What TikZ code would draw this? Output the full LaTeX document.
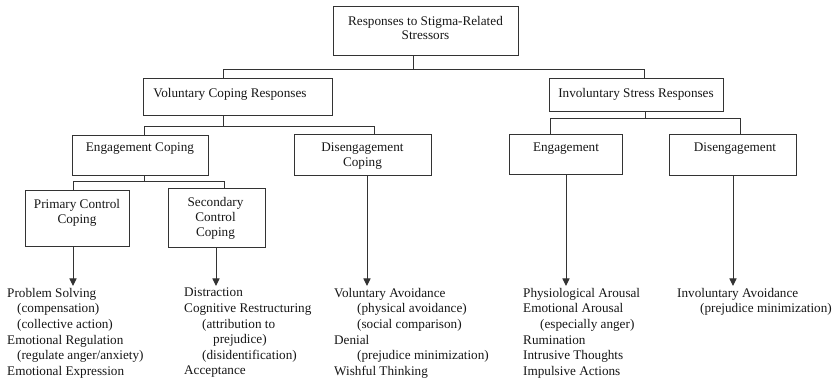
\documentclass[tikz,border=0pt]{standalone}
\usepackage{fontspec}
\setmainfont{Liberation Serif}
\usetikzlibrary{arrows.meta}
\definecolor{ink}{HTML}{161616}
\definecolor{rulec}{HTML}{333333}
\begin{document}
\begin{tikzpicture}[x=1pt,y=-1pt,
  box/.style={draw=rulec, line width=1pt, inner sep=0pt, rectangle},
  btxt/.style={inner sep=0pt, anchor=north, align=center, text=ink,
    font=\fontsize{13.2}{15}\selectfont},
  ltxt/.style={inner sep=0pt, anchor=north west, align=left, text=ink,
    font=\fontsize{13.2}{15.6}\selectfont},
  conn/.style={draw=rulec, line width=1pt},
  arr/.style={conn, -{Triangle[length=7.5pt,width=7pt]}, shorten >=2pt}]
\useasboundingbox (0,0) rectangle (836,379);

% boxes
\node[box, minimum width=185pt, minimum height=49pt] (top)  at (425.5,31.5) {};
\node[box, minimum width=189pt, minimum height=37pt] (vol)  at (237.5,97.5) {};
\node[box, minimum width=174pt, minimum height=33pt] (inv)  at (636,95.5) {};
\node[box, minimum width=136pt, minimum height=40pt] (engc) at (140,156) {};
\node[box, minimum width=137pt, minimum height=41pt] (disc) at (362.5,155.5) {};
\node[box, minimum width=104pt, minimum height=56pt] (pcc)  at (77,219) {};
\node[box, minimum width=97pt,  minimum height=59pt] (scc)  at (216.5,218.5) {};
\node[box, minimum width=113pt, minimum height=40pt] (eng)  at (565.5,155) {};
\node[box, minimum width=127pt, minimum height=41pt] (dis)  at (732.5,155.5) {};

% box texts
\node[btxt, font=\fontsize{13.2}{14.5}\selectfont] (tTop) at (425.5,16) {Responses to Stigma-Related\\Stressors};
\node[btxt] (tVol)  at (230,88)  {Voluntary Coping Responses};
\node[btxt] (tInv)  at (636,88)  {Involuntary Stress Responses};
\node[btxt] (tEngc) at (140,143) {Engagement Coping};
\node[btxt] (tDisc) at (362.5,143) {Disengagement\\Coping};
\node[btxt] (tPcc)  at (77,199)  {Primary Control\\Coping};
\node[btxt] (tScc)  at (215.5,197) {Secondary\\Control\\Coping};
\node[btxt] (tEng)  at (566,143) {Engagement};
\node[btxt] (tDis)  at (735,143) {Disengagement};

% bus coordinates
\coordinate (b0) at (413,70);
\coordinate (b0l) at (223,70);
\coordinate (b0r) at (644,70);
\coordinate (b1) at (223,127);
\coordinate (b1l) at (144,127);
\coordinate (b1r) at (374,127);
\coordinate (b2) at (645,119);
\coordinate (b2l) at (550,119);
\coordinate (b2r) at (740,119);
\coordinate (b3) at (144,182);
\coordinate (b3l) at (73,182);
\coordinate (b3r) at (224,182);

% connectors
\draw[conn] (top.south -| b0) -- (b0);
\draw[conn] (vol.north -| b0l) -- (b0l) -- (b0r) -- (inv.north -| b0r);
\draw[conn] (vol.south -| b1) -- (b1);
\draw[conn] (engc.north -| b1l) -- (b1l) -- (b1r) -- (disc.north -| b1r);
\draw[conn] (inv.south -| b2) -- (b2);
\draw[conn] (eng.north -| b2l) -- (b2l) -- (b2r) -- (dis.north -| b2r);
\draw[conn] (engc.south -| b3) -- (b3);
\draw[conn] (pcc.north -| b3l) -- (b3l) -- (b3r) -- (scc.north -| b3r);

% lists
\node[ltxt] (l1) at (7,288) {Problem Solving\\
\hspace*{10pt}(compensation)\\
\hspace*{10pt}(collective action)\\
Emotional Regulation\\
\hspace*{10pt}(regulate anger/anxiety)\\
Emotional Expression};
\node[ltxt] (l2) at (184,288) {Distraction\\
Cognitive Restructuring\\
\hspace*{18pt}(attribution to\\
\hspace*{29pt}prejudice)\\
\hspace*{18pt}(disidentification)\\
Acceptance};
\node[ltxt] (l3) at (334,288) {Voluntary Avoidance\\
\hspace*{23pt}(physical avoidance)\\
\hspace*{23pt}(social comparison)\\
Denial\\
\hspace*{23pt}(prejudice minimization)\\
Wishful Thinking};
\node[ltxt] (l4) at (523,288) {Physiological Arousal\\
Emotional Arousal\\
\hspace*{17pt}(especially anger)\\
Rumination\\
Intrusive Thoughts\\
Impulsive Actions};
\node[ltxt] (l5) at (677,288) {Involuntary Avoidance\\
\hspace*{23pt}(prejudice minimization)};

% arrows
\coordinate (a1) at (73,0);
\coordinate (a2) at (216,0);
\coordinate (a3) at (367,0);
\coordinate (a4) at (566,0);
\coordinate (a5) at (733,0);
\draw[arr] (pcc.south -| a1) -- (l1.north -| a1);
\draw[arr] (scc.south -| a2) -- (l2.north -| a2);
\draw[arr] (disc.south -| a3) -- (l3.north -| a3);
\draw[arr] (eng.south -| a4) -- (l4.north -| a4);
\draw[arr] (dis.south -| a5) -- (l5.north -| a5);
\end{tikzpicture}
\end{document}
